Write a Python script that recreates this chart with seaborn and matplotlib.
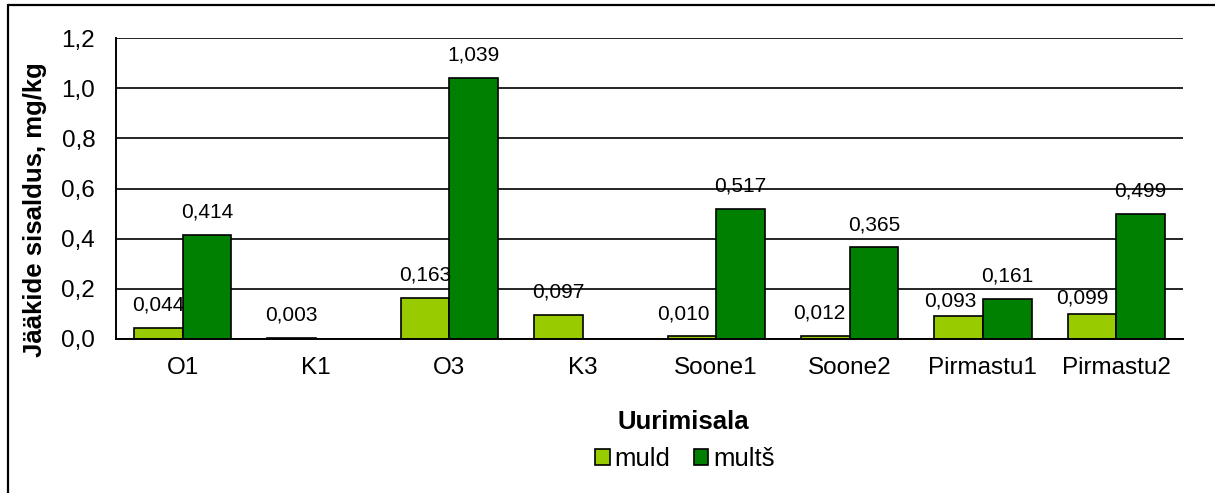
import matplotlib
matplotlib.use("Agg")
import matplotlib.pyplot as plt
import seaborn as sns
import pandas as pd
import numpy as np
from matplotlib.lines import Line2D
from matplotlib.patches import Patch

# ---- data ----
sites = ["O1", "K1", "O3", "K3", "Soone1", "Soone2", "Pirmastu1", "Pirmastu2"]
muld = [0.044, 0.003, 0.163, 0.097, 0.010, 0.012, 0.093, 0.099]
mults = [0.414, np.nan, 1.039, np.nan, 0.517, 0.365, 0.161, 0.499]
series_names = ["muld", "multš"]
y_ticks = [0.0, 0.2, 0.4, 0.6, 0.8, 1.0, 1.2]
y_tick_labels = ["0,0", "0,2", "0,4", "0,6", "0,8", "1,0", "1,2"]
y_label = "Jääkide sisaldus, mg/kg"
x_label = "Uurimisala"

colors = {"muld": "#99CC00", "multš": "#008000"}

# manual label nudges (points) as in the original layout
label_nudge = {
    ("muld", "Soone1"): (-6, 0),
    ("muld", "Soone2"): (-4, 0),
    ("muld", "Pirmastu1"): (-6, -6),
    ("muld", "Pirmastu2"): (-7, -5),
}

df = pd.DataFrame({
    "site": sites * 2,
    "value": muld + mults,
    "series": [series_names[0]] * len(sites) + [series_names[1]] * len(sites),
})

sns.set_style("white")
plt.rcParams["font.family"] = ["Liberation Sans", "DejaVu Sans"]
plt.rcParams["text.color"] = "black"
plt.rcParams["axes.labelcolor"] = "black"
plt.rcParams["xtick.color"] = "black"
plt.rcParams["ytick.color"] = "black"

W, H = 1215, 493
fig = plt.figure(figsize=(W / 100, H / 100), dpi=100)
ax = fig.add_axes([116 / W, 1 - 339 / H, (1183 - 116) / W, (339 - 38) / H])

sns.barplot(data=df, x="site", y="value", hue="series", order=sites,
            hue_order=series_names, palette=colors, width=0.73,
            edgecolor="black", linewidth=1.2, saturation=1, ax=ax,
            errorbar=None)

# value labels
for name, cont in zip(series_names, ax.containers):
    for site, p in zip(sites, cont.patches):
        h = p.get_height()
        if h is None or np.isnan(h):
            continue
        dx, dy = label_nudge.get((name, site), (0, 0))
        ax.annotate(f"{h:.3f}".replace(".", ","),
                    (p.get_x() + p.get_width() / 2, h),
                    xytext=(dx, 16.5 + dy), textcoords="offset points",
                    ha="center", va="center", fontsize=15, color="black")

ax.set_xlim(-0.5, len(sites) - 0.5)
ax.set_ylim(0, 1.2)
ax.set_yticks(y_ticks)
ax.set_yticklabels(y_tick_labels)
ax.set_xticks(range(len(sites)))
ax.set_xticklabels(sites)
ax.set_xticks(np.arange(-0.5, len(sites), 1.0), minor=True)
ax.tick_params(axis="x", which="major", length=0, labelsize=17.5, pad=13)
ax.tick_params(axis="x", which="minor", length=7, width=1.2, color="black", direction="out")
ax.tick_params(axis="y", which="major", length=8, width=1.2, color="black",
               direction="out", labelsize=17.5, pad=7)
ax.set_xlabel("")
ax.set_ylabel("")
ax.grid(axis="y", color="black", linewidth=1.2)
ax.grid(axis="x", visible=False)
ax.set_axisbelow(True)
for s in ["top", "right"]:
    ax.spines[s].set_visible(False)
for s in ["left", "bottom"]:
    ax.spines[s].set_color("black")
    ax.spines[s].set_linewidth(1.4)
ax.patch.set_alpha(0)

if ax.get_legend() is not None:
    ax.get_legend().remove()

fig.text(35 / W, 1 - 210 / H, y_label, rotation=90, ha="center", va="center",
         fontsize=18.5, fontweight="bold")
fig.text(683 / W, 1 - 422 / H, x_label, ha="center", va="center",
         fontsize=18.5, fontweight="bold")

handles = [Patch(facecolor=colors[n], edgecolor="black", linewidth=1.2) for n in series_names]
fig.legend(handles, series_names, loc="center", bbox_to_anchor=(685 / W, 1 - 459 / H),
           ncol=2, frameon=False, fontsize=18.5, handlelength=0.55, handleheight=0.55,
           handletextpad=0.2, columnspacing=0.9, borderpad=0)

# outer frame (left and top edges visible)
fig.add_artist(Line2D([8 / W, 8 / W], [0, 1 - 5 / H], color="black", linewidth=1.6,
                      transform=fig.transFigure))
fig.add_artist(Line2D([8 / W, 1], [1 - 5 / H, 1 - 5 / H], color="black", linewidth=1.6,
                      transform=fig.transFigure))

fig.savefig("out.png", dpi=100)
